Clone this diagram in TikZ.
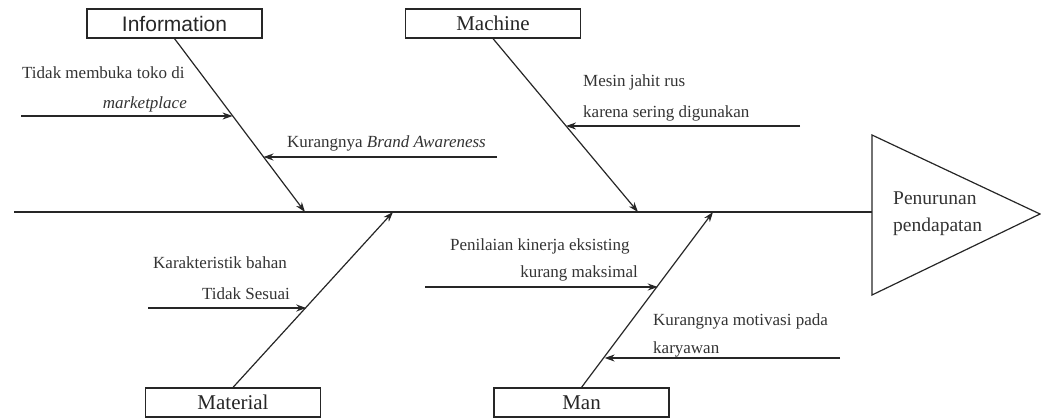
\documentclass[tikz,border=0pt]{standalone}
\usepackage{fontspec}
\setmainfont{Liberation Serif}
\newfontfamily\arialf{Liberation Sans}
\usetikzlibrary{arrows.meta}
\begin{document}
\begin{tikzpicture}[x=1pt,y=-1pt,
  bone/.style={draw=black!85, line width=1.2pt},
  arr/.style={bone, -{Stealth[length=10pt,width=7pt]}},
  catbox/.style={draw=black!85, line width=1.2pt, minimum width=175pt, minimum height=29pt, inner sep=0pt, text=black!85, font=\fontsize{21}{21}\selectfont},
  lbl/.style={inner sep=0pt, text=black!80, font=\fontsize{17}{17}\selectfont},
  headlbl/.style={inner sep=0pt, text=black!80, font=\fontsize{19.5}{19.5}\selectfont}]
\useasboundingbox (0,0) rectangle (1041,418);

% category boxes
\node[catbox] (info) at (174.5,23.5) {\arialf Information};
\node[catbox] (mach) at (493,23.5) {Machine};
\node[catbox] (mat) at (233,402.5) {Material};
\node[catbox] (man) at (581.5,402.5) {Man};

% spine and head
\coordinate (spineL) at (14,212);
\coordinate (head) at (872,212);
\coordinate (hTop) at (872,135);
\coordinate (hTip) at (1040,214);
\coordinate (hBot) at (872,295);
\draw[bone] (spineL) -- (head);
\draw[bone] (hTop) -- (hTip) -- (hBot) -- cycle;
\node[headlbl, anchor=base west] (h1) at (893,204) {Penurunan};
\node[headlbl, anchor=base west] (h2) at (893,231) {pendapatan};

% junctions on spine
\coordinate (j1) at (305,212);
\coordinate (j2) at (393,212);
\coordinate (j3) at (638,212);
\coordinate (j4) at (713,212);

% bones
\draw[arr] (info.south) -- (j1) coordinate[pos=0.445] (i1) coordinate[pos=0.682] (i2);
\draw[arr] (mach.south) -- (j3) coordinate[pos=0.503] (m1);
\draw[arr] (mat.north) -- (j2) coordinate[pos=0.458] (t1);
\draw[arr] (man.north) -- (j4) coordinate[pos=0.58] (n1) coordinate[pos=0.176] (n2);

% cause arrows
\coordinate (s1) at (21,116);
\coordinate (s2) at (497,157);
\coordinate (s3) at (800,126);
\coordinate (s4) at (148,308);
\coordinate (s5) at (425,287);
\coordinate (s6) at (840,358);
\draw[arr] (s1) -- (s1 -| i1);
\draw[arr] (s2) -- (s2 -| i2);
\draw[arr] (s3) -- (s3 -| m1);
\draw[arr] (s4) -- (s4 -| t1);
\draw[arr] (s5) -- (s5 -| n1);
\draw[arr] (s6) -- (s6 -| n2);

% cause labels
\node[lbl, anchor=base west] (c1a) at (22,78) {Tidak membuka toko di};
\node[lbl, anchor=base east] (c1b) at (187,108) {\itshape marketplace};
\node[lbl, anchor=base west] (c2) at (287,147) {Kurangnya \textit{Brand Awareness}};
\node[lbl, anchor=base west] (c3a) at (583,86) {Mesin jahit rus};
\node[lbl, anchor=base west] (c3b) at (583,117) {karena sering digunakan};
\node[lbl, anchor=base west] (c4a) at (153,268) {Karakteristik bahan};
\node[lbl, anchor=base east] (c4b) at (290,299) {Tidak Sesuai};
\node[lbl, anchor=base west] (c5a) at (450,250) {Penilaian kinerja eksisting};
\node[lbl, anchor=base east] (c5b) at (638,277) {kurang maksimal};
\node[lbl, anchor=base west] (c6a) at (653,325) {Kurangnya motivasi pada};
\node[lbl, anchor=base west] (c6b) at (653,353) {karyawan};
\end{tikzpicture}
\end{document}
